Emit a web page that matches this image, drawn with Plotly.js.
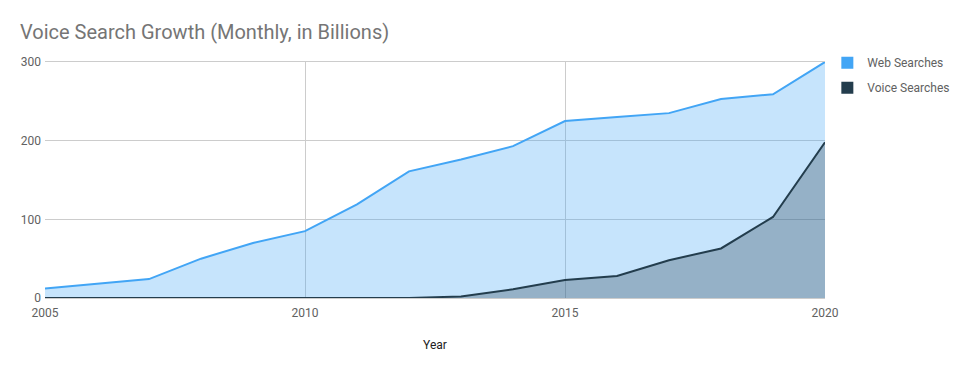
<!DOCTYPE html>
<html>
<head>
<meta charset="utf-8">
<script src="https://cdn.plot.ly/plotly-3.0.1.min.js"></script>
<style>html,body{margin:0;padding:0;background:#fff;}#chart{width:965px;height:371px;}</style>
</head>
<body>
<div id="chart"></div>
<script>
const years = [2005,2006,2007,2008,2009,2010,2011,2012,2013,2014,2015,2016,2017,2018,2019,2020];
const webSearches = [12,18,24,50,70,85,119,161,176,193,225,230,235,253,259,300];
const voiceSearches = [0,0,0,0,0,0,0,0,2,11,23,28,48,63,103,198];
const seriesNames = ['Web Searches','Voice Searches'];
const xTicks = [2005,2010,2015,2020];
const yTicks = [0,100,200,300];

const webColor = '#42a5f5';
const voiceColor = '#233d4d';

const traces = [
  {x: years, y: webSearches, type:'scatter', mode:'lines', fill:'tozeroy',
   line:{color:webColor, width:2}, fillcolor:'rgba(66,165,245,0.3)', showlegend:false, hoverinfo:'skip'},
  {x: years, y: voiceSearches, type:'scatter', mode:'lines', fill:'tozeroy',
   line:{color:voiceColor, width:2}, fillcolor:'rgba(35,61,77,0.3)', showlegend:false, hoverinfo:'skip'},
  {x:[null], y:[null], type:'scatter', mode:'markers', name:seriesNames[0], legendgroup:'a',
   marker:{symbol:'square', size:12, color:webColor}},
  {x:[null], y:[null], type:'scatter', mode:'markers', name:seriesNames[1], legendgroup:'b',
   marker:{symbol:'square', size:12, color:voiceColor}}
];

const layout = {
  width:965, height:371,
  margin:{l:45, r:140, t:62, b:73, autoexpand:false},
  paper_bgcolor:'#fff', plot_bgcolor:'#fff',
  font:{family:'Roboto, Arial, sans-serif', size:12, color:'#616161'},
  title:{text:'Voice Search Growth (Monthly, in Billions)', xref:'container', x:20/965, xanchor:'left',
         yref:'container', y:1 - 32/371, yanchor:'middle',
         font:{family:'Roboto, Arial, sans-serif', size:20, color:'#757575'}},
  xaxis:{range:[2005,2020], tickvals:xTicks, ticktext:xTicks.map(String), showgrid:true, gridcolor:'#cccccc',
         zeroline:false, showline:true, mirror:true, linecolor:'#cccccc', ticks:'', ticklen:0,
         ticklabelstandoff:4,
         tickfont:{size:12, color:'#616161'},
         title:{text:'Year', standoff:21, font:{size:12, color:'#212121'}}},
  yaxis:{range:[0,300], tickvals:yTicks, showgrid:true, gridcolor:'#cccccc', zeroline:false,
         showline:false, ticks:'', ticklabelstandoff:3, tickfont:{size:12, color:'#616161'}},
  legend:{x:1.003, xref:'paper', xanchor:'left', y:1.058, yanchor:'top', traceorder:'grouped',
          tracegroupgap:6, font:{size:12, color:'#616161'}, bgcolor:'rgba(0,0,0,0)'},
  showlegend:true
};
Plotly.newPlot('chart', traces, layout, {displayModeBar:false, staticPlot:true});
</script>
</body>
</html>
